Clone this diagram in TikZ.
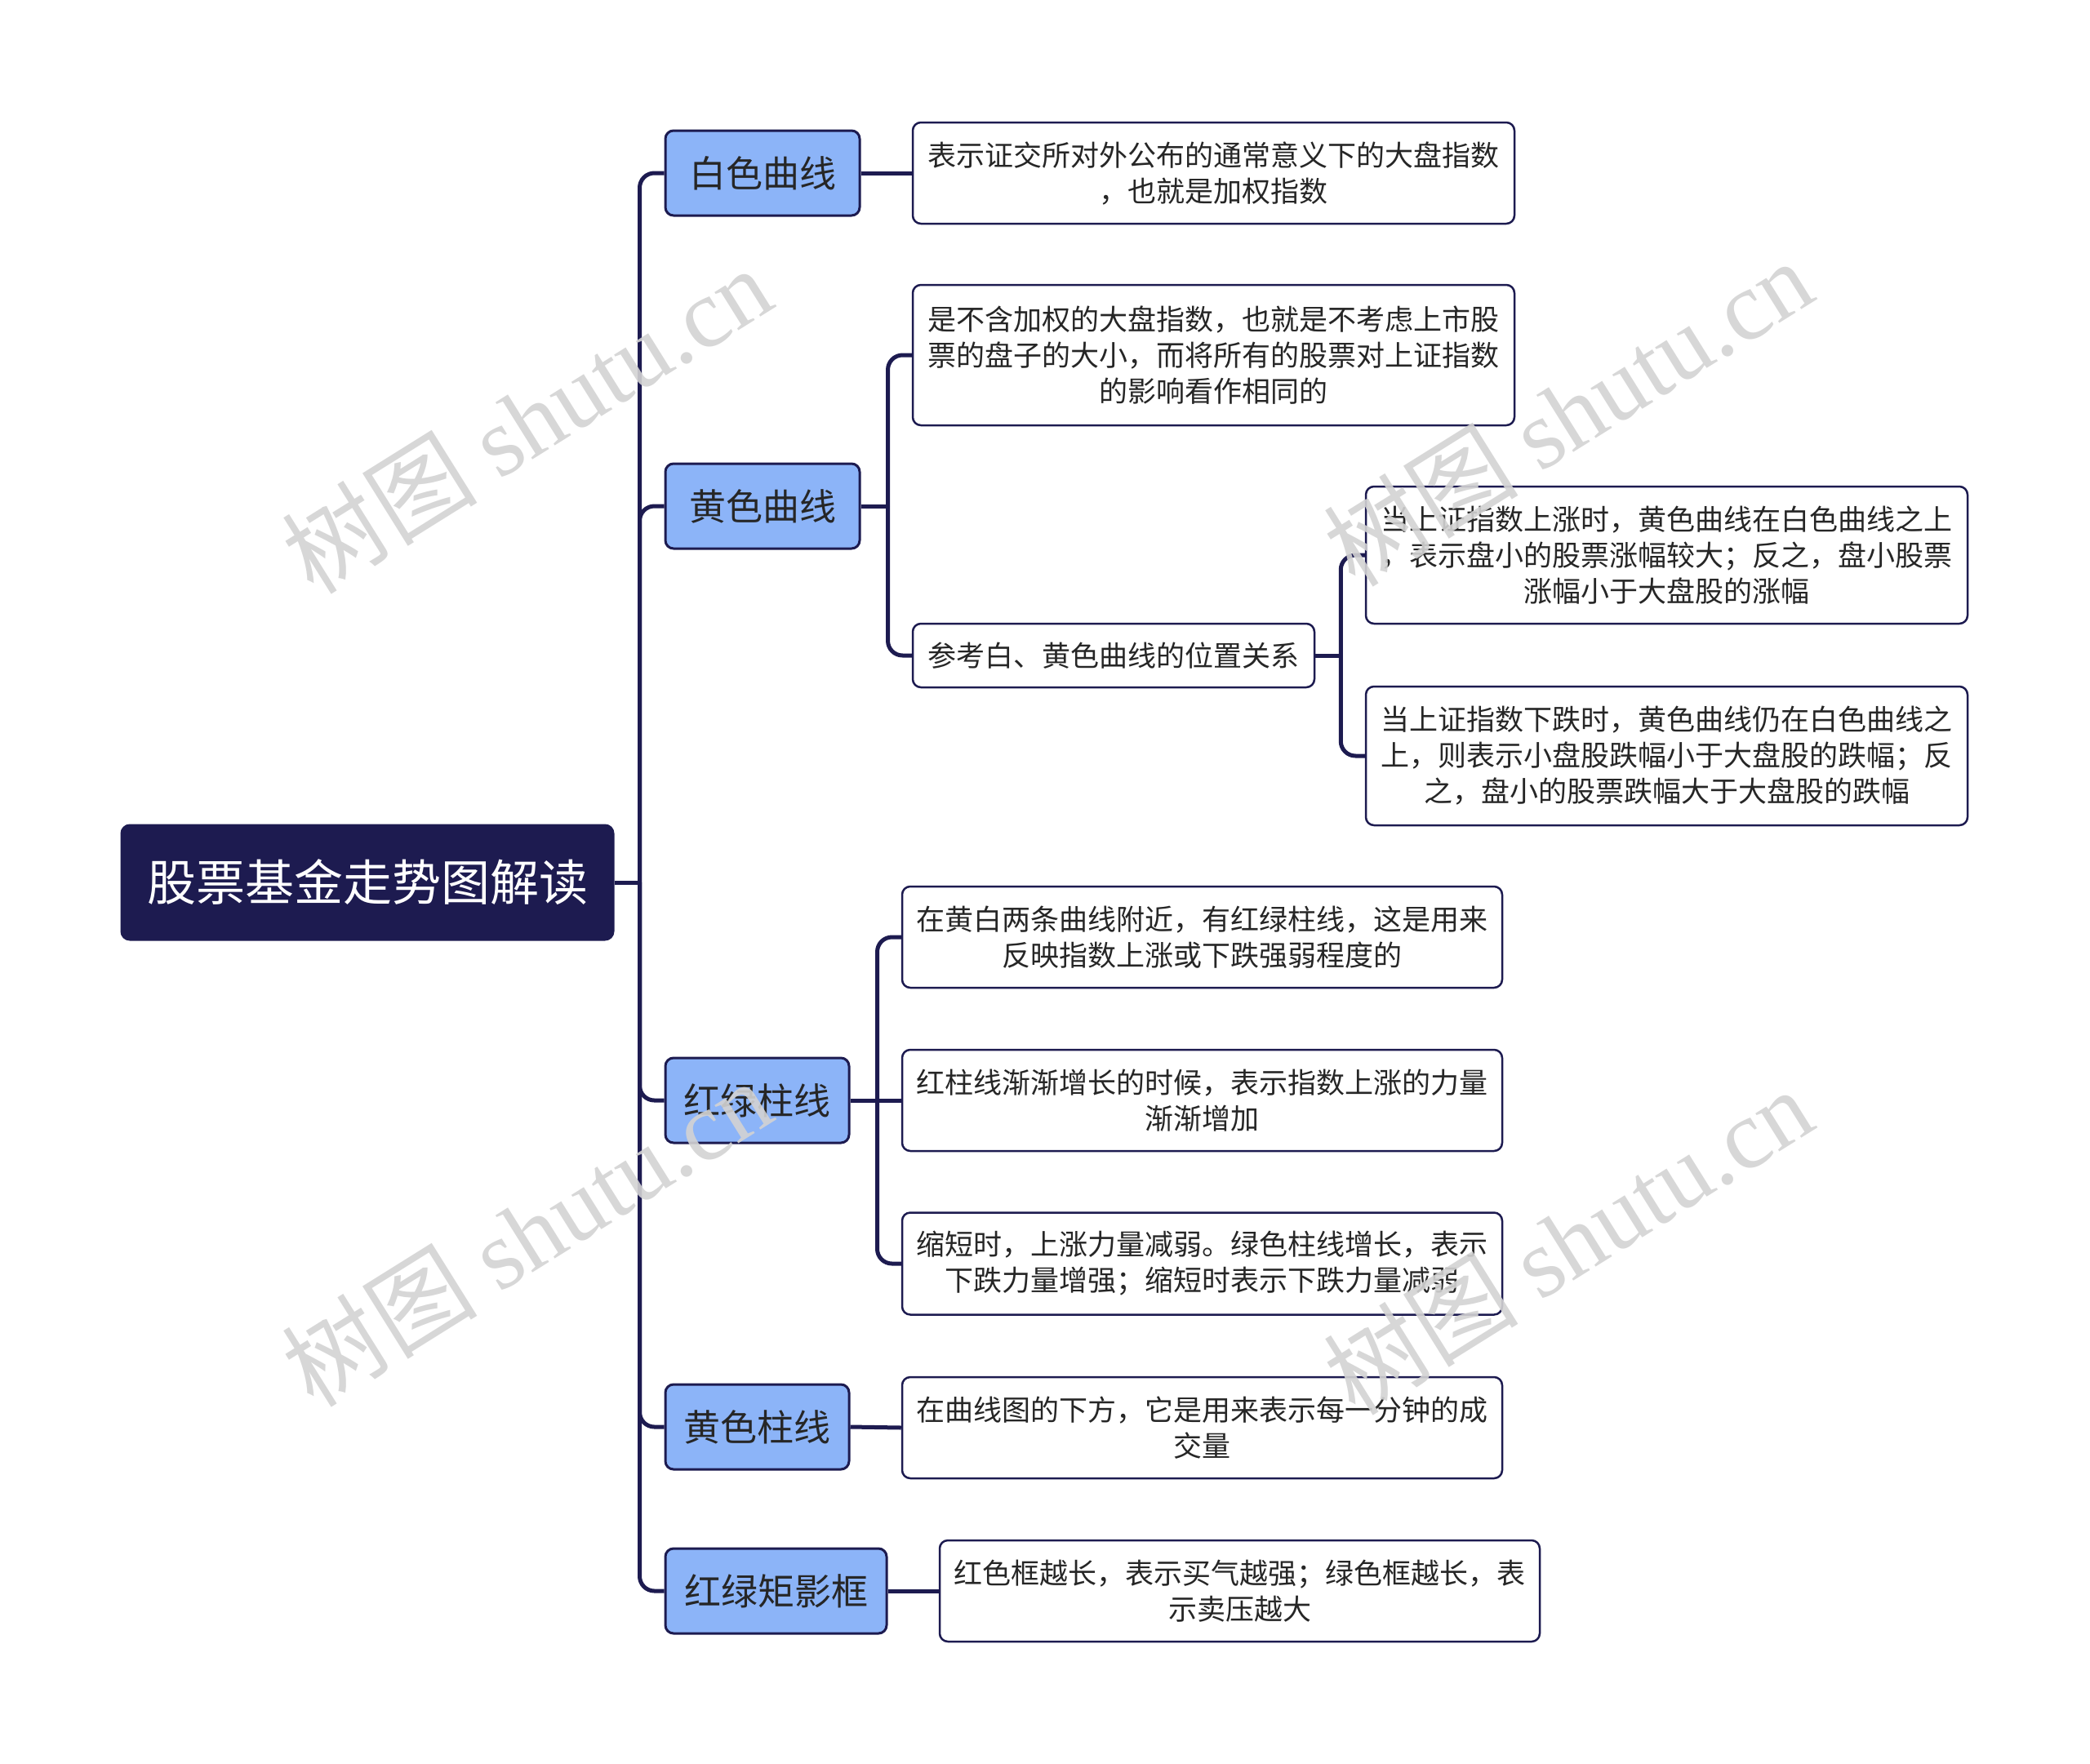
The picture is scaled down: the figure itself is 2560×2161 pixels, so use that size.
\documentclass[tikz,border=0pt]{standalone}
\usepackage{fontspec}
\setmainfont{Noto Sans CJK SC}
\newfontfamily\wmlatin{Liberation Serif}
\newfontfamily\wmcjk{Noto Sans CJK SC}
\begin{document}
\begin{tikzpicture}[x=1pt,y=-1pt,
  rootbox/.style={draw=navy,fill=navy,line width=3pt,rounded corners=10pt,text=white,
    font=\fontsize{60}{70}\selectfont,minimum width=602pt,minimum height=140pt,inner sep=0pt},
  topicbox/.style={draw=navy,fill=topicblue,line width=3pt,rounded corners=10pt,text=textdark,
    font=\fontsize{45}{54}\selectfont,minimum height=104pt,inner sep=0pt},
  descbox/.style={draw=navy,fill=white,line width=2.5pt,rounded corners=10pt,text=textdark,
    font=\fontsize{35}{44}\selectfont,align=center,inner sep=0pt,minimum width=737pt},
  conn/.style={draw=navy,line width=5pt,rounded corners=18pt},
  wm/.style={text=wmgray,opacity=0.9,rotate=32,font=\fontsize{120}{130}\selectfont}
]
\definecolor{navy}{HTML}{1D1B50}
\definecolor{topicblue}{HTML}{8CB4F8}
\definecolor{textdark}{HTML}{262626}
\definecolor{wmgray}{HTML}{D3D3D3}
\useasboundingbox (0,0) rectangle (2560,2161);

% root
\node[rootbox] (root) at (450,1081) {股票基金走势图解读};

% level 1
\node[topicbox,minimum width=238pt] (t1) at (934,212) {白色曲线};
\node[topicbox,minimum width=238pt] (t2) at (934,620) {黄色曲线};
\node[topicbox,minimum width=225pt] (t3) at (927.5,1348) {红绿柱线};
\node[topicbox,minimum width=225pt] (t4) at (927.5,1748) {黄色柱线};
\node[topicbox,minimum width=271pt] (t5) at (950.5,1949) {红绿矩影框};

% level 2
\node[descbox,minimum height=124pt] (d1) at (1486.5,212) {表示证交所对外公布的通常意义下的大盘指数\\，也就是加权指数};
\node[descbox,minimum height=172pt] (d2) at (1486.5,435) {是不含加权的大盘指数，也就是不考虑上市股\\票的盘子的大小，而将所有的股票对上证指数\\的影响看作相同的};
\node[descbox,minimum width=492pt,minimum height=78pt] (d3) at (1364,803) {参考白、黄色曲线的位置关系};
\node[descbox,minimum height=168pt] (e1) at (2041.5,680) {当上证指数上涨时，黄色曲线在白色曲线之上\\，表示盘小的股票涨幅较大；反之，盘小股票\\涨幅小于大盘股的涨幅};
\node[descbox,minimum height=170pt] (e2) at (2041.5,926) {当上证指数下跌时，黄色曲线仍在白色曲线之\\上，则表示小盘股跌幅小于大盘股的跌幅；反\\之，盘小的股票跌幅大于大盘股的跌幅};
\node[descbox,minimum width=735pt,minimum height=124pt] (r1) at (1472.5,1148) {在黄白两条曲线附近，有红绿柱线，这是用来\\反映指数上涨或下跌强弱程度的};
\node[descbox,minimum width=735pt,minimum height=124pt] (r2) at (1472.5,1348) {红柱线渐渐增长的时候，表示指数上涨的力量\\渐渐增加};
\node[descbox,minimum width=735pt,minimum height=125pt] (r3) at (1472.5,1548) {缩短时，上涨力量减弱。绿色柱线增长，表示\\下跌力量增强；缩短时表示下跌力量减弱};
\node[descbox,minimum width=735pt,minimum height=124pt] (y1) at (1472.5,1749) {在曲线图的下方，它是用来表示每一分钟的成\\交量};
\node[descbox,minimum width=735pt,minimum height=124pt] (g1) at (1518.5,1949) {红色框越长，表示买气越强；绿色框越长，表\\示卖压越大};

% connectors root -> topics
\draw[conn] (root.east) -- ++(31,0) coordinate (j0);
\foreach \t in {t1,t2,t3,t4,t5}{
  \draw[conn] (j0) |- (\t.west);
}
% topic 1
\draw[conn] (t1.east) -- (d1.west);
% topic 2
\draw[conn] (t2.east) -- ++(33,0) coordinate (j2);
\foreach \t in {d2,d3}{
  \draw[conn] (j2) |- (\t.west);
}
\draw[conn] (d3.east) -- ++(31,0) coordinate (j3);
\foreach \t in {e1,e2}{
  \draw[conn] (j3) |- (\t.west);
}
% topic 3
\draw[conn] (t3.east) -- (r2.west);
\coordinate (j4) at ([xshift=33pt]t3.east);
\foreach \t in {r1,r3}{
  \draw[conn] (j4) |- (\t.west);
}
% topic 4, 5
\draw[conn] (t4.east) -- (y1.west);
\draw[conn] (t5.east) -- (g1.west);

% watermarks
\node[wm] (w1) at (645,514) {{\wmcjk 树图} {\wmlatin shutu.cn}};
\node[wm] (w2) at (1920,505) {{\wmcjk 树图} {\wmlatin shutu.cn}};
\node[wm] (w3) at (645,1510) {{\wmcjk 树图} {\wmlatin shutu.cn}};
\node[wm] (w4) at (1920,1520) {{\wmcjk 树图} {\wmlatin shutu.cn}};
\end{tikzpicture}
\end{document}
